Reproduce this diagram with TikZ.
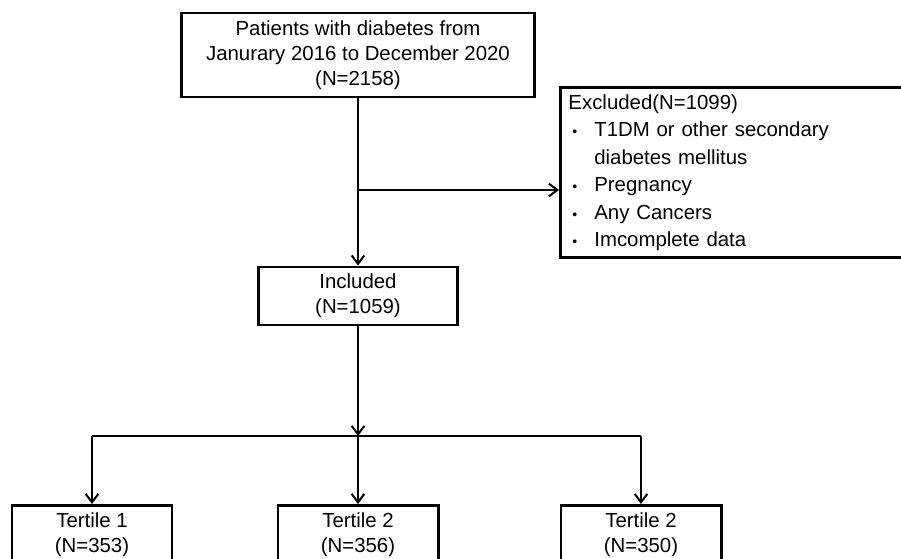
\documentclass[tikz,border=0pt]{standalone}
\usepackage{fontspec}
\setmainfont{Liberation Sans}
\usetikzlibrary{calc, positioning, arrows, arrows.meta}
\tikzstyle{box}=[draw, line width=2.1pt, align=center, inner sep=0pt, font=\fontsize{14.5pt}{17.8pt}\selectfont]
\tikzstyle{exclbox}=[draw, line width=2.1pt, inner xsep=0.2cm, inner ysep=0pt, text width=8.4cm, align=left, font=\fontsize{14.5pt}{19.6pt}\selectfont]
\tikzstyle{flow}=[-{Straight Barb[length=6pt,width=9pt,line width=1.4pt]}, line width=1.4pt]

\begin{document}
\begin{tikzpicture}[x=0.025cm, y=-0.025cm]
			\useasboundingbox (0,0) rectangle (901,559);

			\node[box, minimum width=8.8cm, minimum height=2.1cm] (all) at (358,55) {Patients with diabetes from\\Janurary 2016 to December 2020\\(N=2158)};
			\node[exclbox, minimum height=4.25cm, anchor=north west] (excl) at (559,86) {%
				\begin{tabular}{@{}p{2.8pt}@{}p{15.6pt}@{}l@{}}
				\multicolumn{3}{@{}l@{}}{Excluded(N=1099)}\\
				& {\fontsize{10pt}{10pt}\selectfont\textbullet} & T1DM or other secondary\\
				& & diabetes mellitus\\
				& {\fontsize{10pt}{10pt}\selectfont\textbullet} & Pregnancy\\
				& {\fontsize{10pt}{10pt}\selectfont\textbullet} & Any Cancers\\
				& {\fontsize{10pt}{10pt}\selectfont\textbullet} & Imcomplete data
				\end{tabular}};
			\node[box, minimum width=4.975cm, minimum height=1.45cm] (incl) at (358,296) {Included\\(N=1059)};

			% tertile groups
			\node[box, minimum width=4cm, minimum height=1.45cm, anchor=north] (t1) at (92,504) {Tertile 1\\(N=353)};
			\node[box, minimum width=4cm, minimum height=1.45cm, anchor=north] (t2) at (358,504) {Tertile 2\\(N=356)};
			\node[box, minimum width=4cm, minimum height=1.45cm, anchor=north] (t3) at (641,504) {Tertile 2\\(N=350)};

			\coordinate (exbr) at (358,190);
			\coordinate (split) at (358,436);
			\coordinate (splitl) at (92,436);
			\coordinate (splitr) at (641,436);

			\draw[flow] (all) -- (incl);
			\draw[flow] (exbr) -- (excl.west |- exbr);
			\draw[flow] (incl) -- (split);
			\draw[line width=1.4pt] (splitl) -- (splitr);
			\path[flow]
			(splitl) edge (t1)
			(split) edge (t2)
			(splitr) edge (t3)
			;
		\end{tikzpicture}
\end{document}
